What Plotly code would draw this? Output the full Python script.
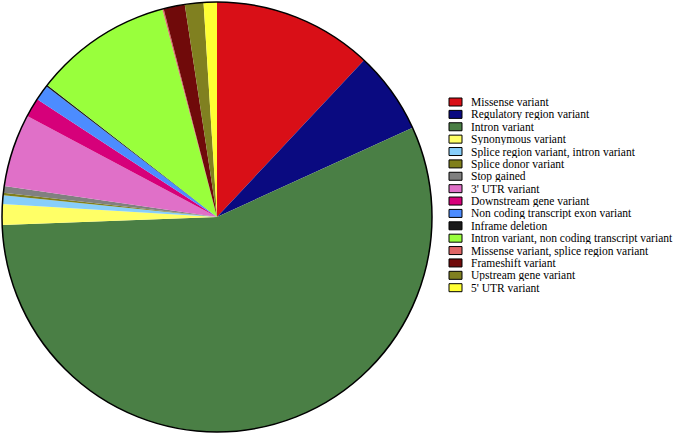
import plotly.graph_objects as go

labels = [
    "Missense variant",
    "Regulatory region variant",
    "Intron variant",
    "Synonymous variant",
    "Splice region variant, intron variant",
    "Splice donor variant",
    "Stop gained",
    "3' UTR variant",
    "Downstream gene variant",
    "Non coding transcript exon variant",
    "Inframe deletion",
    "Intron variant, non coding transcript variant",
    "Missense variant, splice region variant",
    "Frameshift variant",
    "Upstream gene variant",
    "5' UTR variant",
]
values = [12.0, 6.2, 56.3, 1.56, 0.64, 0.19, 0.5, 5.5, 1.44, 1.17, 0.12, 10.4, 0.1, 1.6, 1.4, 1.0]
colors = [
    "#D90F17", "#0A0A80", "#4A7F45", "#FFFF66", "#87CEFA", "#807F1A", "#808080", "#E070C8",
    "#D6007A", "#4C8CFF", "#1A1A1A", "#99FF3C", "#E06666", "#700A0A", "#808020", "#FFFF33",
]

W, H = 675, 435
cx, cy, r = 217, 217, 215  # pixel layout of pie (from top-left)

fig = go.Figure()
fig.add_trace(go.Pie(
    labels=labels, values=values, sort=False, direction="clockwise", rotation=0,
    marker=dict(colors=colors, line=dict(width=0)),
    textinfo="none", hoverinfo="label+percent", showlegend=False,
    domain=dict(x=[(cx - r) / W, (cx + r) / W], y=[(H - cy - r) / H, (H - cy + r) / H]),
))

shapes = [dict(type="circle", xref="paper", yref="paper",
               x0=(cx - r) / W, x1=(cx + r) / W, y0=(H - cy - r) / H, y1=(H - cy + r) / H,
               line=dict(color="black", width=1.5))]
annotations = []
leg_x0, leg_y0, step = 449, 102, 12.38
for i, (lab, col) in enumerate(zip(labels, colors)):
    yc = leg_y0 + i * step
    shapes.append(dict(type="rect", xref="paper", yref="paper",
                       x0=leg_x0 / W, x1=(leg_x0 + 13) / W,
                       y0=(H - yc - 4) / H, y1=(H - yc + 4) / H,
                       fillcolor=col, line=dict(color="black", width=1)))
    annotations.append(dict(text=lab, xref="paper", yref="paper", x=470 / W, y=(H - yc) / H,
                            xanchor="left", yanchor="middle", showarrow=False,
                            height=12, valign="middle", borderpad=0,
                            font=dict(family="'Liberation Serif', 'Times New Roman', serif",
                                      size=11.5, color="black")))

fig.update_layout(
    width=W, height=H, margin=dict(l=0, r=0, t=0, b=0),
    paper_bgcolor="white", plot_bgcolor="white",
    shapes=shapes, annotations=annotations,
)
fig.write_html("out.html")
